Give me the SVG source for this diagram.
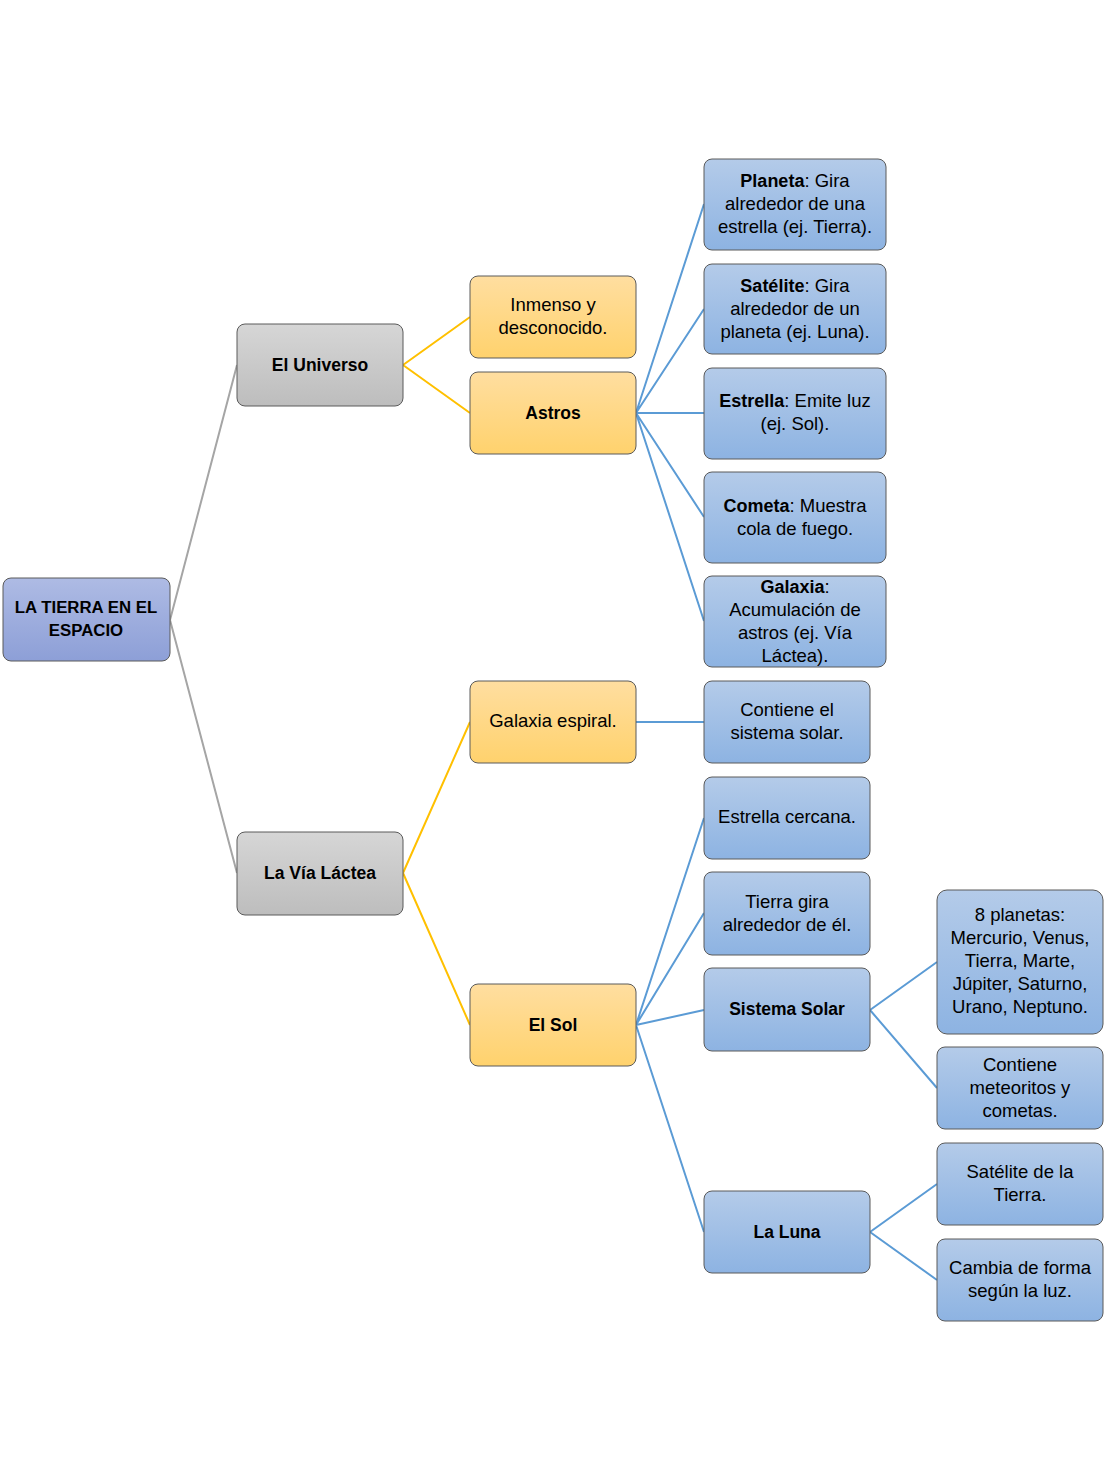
<svg xmlns="http://www.w3.org/2000/svg" width="1111" height="1481" viewBox="0 0 1111 1481">
<defs>
<linearGradient id="gRoot" x1="0" y1="0" x2="0" y2="1"><stop offset="0" stop-color="#aebbe4"/><stop offset="1" stop-color="#8d9fd7"/></linearGradient>
<linearGradient id="gGray" x1="0" y1="0" x2="0" y2="1"><stop offset="0" stop-color="#d6d6d6"/><stop offset="1" stop-color="#bdbdbd"/></linearGradient>
<linearGradient id="gOr" x1="0" y1="0" x2="0" y2="1"><stop offset="0" stop-color="#ffdea0"/><stop offset="1" stop-color="#ffd26d"/></linearGradient>
<linearGradient id="gBl" x1="0" y1="0" x2="0" y2="1"><stop offset="0" stop-color="#b4cbe9"/><stop offset="1" stop-color="#8db3e2"/></linearGradient>
</defs>
<style>
.n{stroke:#5a5a5a;stroke-width:1}
.root{fill:url(#gRoot)}
.gray{fill:url(#gGray)}
.or{fill:url(#gOr)}
.bl{fill:url(#gBl)}
text{font-family:"Liberation Sans","Open Sans",sans-serif;font-size:18.5px;fill:#000;text-anchor:middle}
.b{font-weight:bold;font-size:17.5px}
.r{font-size:16.8px}
tspan.b{font-size:18px}
.cg{stroke:#a5a5a5;stroke-width:2;fill:none}
.cy{stroke:#ffc000;stroke-width:2;fill:none}
.cb{stroke:#5b9bd5;stroke-width:2;fill:none}
</style>
<rect width="1111" height="1481" fill="#fff"/>
<g id="connectors">
<path class="cg" d="M170,620 L237,365 M170,620 L237,873"/>
<path class="cy" d="M403,365 L470,317 M403,365 L470,413 M403,873 L470,722 M403,873 L470,1025"/>
<path class="cb" d="M636,413 L704,204 M636,413 L704,309 M636,413 L704,413 M636,413 L704,517 M636,413 L704,621"/>
<path class="cb" d="M636,722 L704,722"/>
<path class="cb" d="M636,1025 L704,818 M636,1025 L704,913 M636,1025 L704,1010 M636,1025 L704,1232"/>
<path class="cb" d="M870,1010 L937,962 M870,1010 L937,1088 M870,1232 L937,1184 M870,1232 L937,1280"/>
</g>
<g id="n-root"><rect class="n root" x="3" y="578" width="167" height="83" rx="8"/><text class="b r" x="86" y="613">LA TIERRA EN EL</text><text class="b r" x="86" y="636">ESPACIO</text></g>
<g id="n-universo"><rect class="n gray" x="237" y="324" width="166" height="82" rx="8"/><text class="b" x="320" y="371">El Universo</text></g>
<g id="n-via"><rect class="n gray" x="237" y="832" width="166" height="83" rx="8"/><text class="b" x="320" y="879">La Vía Láctea</text></g>
<g id="n-inmenso"><rect class="n or" x="470" y="276" width="166" height="82" rx="8"/><text x="553" y="311">Inmenso y</text><text x="553" y="334">desconocido.</text></g>
<g id="n-astros"><rect class="n or" x="470" y="372" width="166" height="82" rx="8"/><text class="b" x="553" y="419">Astros</text></g>
<g id="n-galesp"><rect class="n or" x="470" y="681" width="166" height="82" rx="8"/><text x="553" y="727">Galaxia espiral.</text></g>
<g id="n-sol"><rect class="n or" x="470" y="984" width="166" height="82" rx="8"/><text class="b" x="553" y="1031">El Sol</text></g>
<g id="n-planeta"><rect class="n bl" x="704" y="159" width="182" height="91" rx="8"/><text x="795" y="187"><tspan class="b">Planeta</tspan>: Gira</text><text x="795" y="210">alrededor de una</text><text x="795" y="233">estrella (ej. Tierra).</text></g>
<g id="n-satelite"><rect class="n bl" x="704" y="264" width="182" height="90" rx="8"/><text x="795" y="292"><tspan class="b">Satélite</tspan>: Gira</text><text x="795" y="315">alrededor de un</text><text x="795" y="338">planeta (ej. Luna).</text></g>
<g id="n-estrella"><rect class="n bl" x="704" y="368" width="182" height="91" rx="8"/><text x="795" y="407"><tspan class="b">Estrella</tspan>: Emite luz</text><text x="795" y="430">(ej. Sol).</text></g>
<g id="n-cometa"><rect class="n bl" x="704" y="472" width="182" height="91" rx="8"/><text x="795" y="512"><tspan class="b">Cometa</tspan>: Muestra</text><text x="795" y="535">cola de fuego.</text></g>
<g id="n-galaxia"><rect class="n bl" x="704" y="576" width="182" height="91" rx="8"/><text x="795" y="593"><tspan class="b">Galaxia</tspan>:</text><text x="795" y="616">Acumulación de</text><text x="795" y="639">astros (ej. Vía</text><text x="795" y="662">Láctea).</text></g>
<g id="n-contiene"><rect class="n bl" x="704" y="681" width="166" height="82" rx="8"/><text x="787" y="716">Contiene el</text><text x="787" y="739">sistema solar.</text></g>
<g id="n-cercana"><rect class="n bl" x="704" y="777" width="166" height="82" rx="8"/><text x="787" y="823">Estrella cercana.</text></g>
<g id="n-gira"><rect class="n bl" x="704" y="872" width="166" height="83" rx="8"/><text x="787" y="908">Tierra gira</text><text x="787" y="931">alrededor de él.</text></g>
<g id="n-sistema"><rect class="n bl" x="704" y="968" width="166" height="83" rx="8"/><text class="b" x="787" y="1015">Sistema Solar</text></g>
<g id="n-luna"><rect class="n bl" x="704" y="1191" width="166" height="82" rx="8"/><text class="b" x="787" y="1238">La Luna</text></g>
<g id="n-planetas"><rect class="n bl" x="937" y="890" width="166" height="144" rx="10"/><text x="1020" y="921">8 planetas:</text><text x="1020" y="944">Mercurio, Venus,</text><text x="1020" y="967">Tierra, Marte,</text><text x="1020" y="990">Júpiter, Saturno,</text><text x="1020" y="1013">Urano, Neptuno.</text></g>
<g id="n-meteoritos"><rect class="n bl" x="937" y="1047" width="166" height="82" rx="8"/><text x="1020" y="1071">Contiene</text><text x="1020" y="1094">meteoritos y</text><text x="1020" y="1117">cometas.</text></g>
<g id="n-satTierra"><rect class="n bl" x="937" y="1143" width="166" height="82" rx="8"/><text x="1020" y="1178">Satélite de la</text><text x="1020" y="1201">Tierra.</text></g>
<g id="n-cambia"><rect class="n bl" x="937" y="1239" width="166" height="82" rx="8"/><text x="1020" y="1274">Cambia de forma</text><text x="1020" y="1297">según la luz.</text></g>
</svg>
